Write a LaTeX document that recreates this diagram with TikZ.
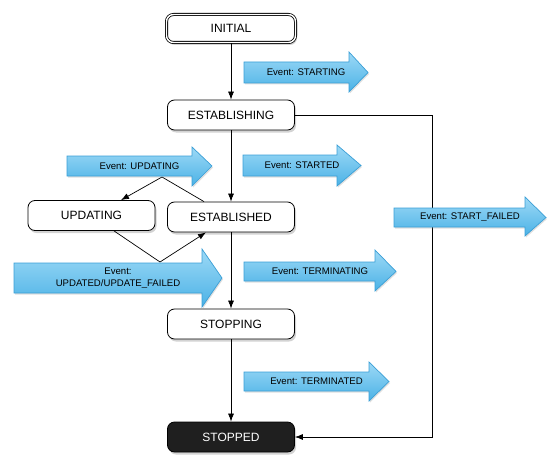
\documentclass[tikz,border=0pt]{standalone}
\usepackage{fontspec}
\setmainfont{Liberation Sans}
\usetikzlibrary{arrows.meta,shadows,calc}
\definecolor{evtop}{HTML}{9DD9F6}
\definecolor{evbot}{HTML}{4BB2E6}
\definecolor{evline}{HTML}{3A9FD6}
\tikzset{
  state/.style={draw=black, rounded corners=7pt, minimum width=127pt, minimum height=30pt,
    fill=white, line width=0.8pt, font=\fontsize{12}{14}\selectfont,
    drop shadow={opacity=0.35, shadow xshift=1.5pt, shadow yshift=-2.5pt}},
  conn/.style={draw=black, line width=0.7pt},
  arr/.style={conn, -{Latex[length=8pt,width=6pt]}},
  evshape/.style={draw=evline, line width=0.7pt, top color=evtop, bottom color=evbot,
    drop shadow={opacity=0.25, shadow xshift=1pt, shadow yshift=-1.5pt}},
  evtext/.style={font=\fontsize{9.6}{11.5}\selectfont, align=center, inner sep=0pt},
}
% name, x0, xbody, xtip, ytop, ybot, headtop, headbot, text
\newcommand{\evarrow}[9]{%
  \path[evshape] (#2,#5) -- (#3,#5) -- (#3,#7) -- (#4,{(#5+#6)/2}) -- (#3,#8) -- (#3,#6) -- (#2,#6) -- cycle;
  \node[evtext] (#1) at ({(#2+#4)/2},{(#5+#6)/2}) {#9};
}
\begin{document}
\begin{tikzpicture}[x=1pt,y=-1pt]
\useasboundingbox (0,0) rectangle (556,468);
% states
\node[state, double, double distance=1.4pt, minimum width=129pt, minimum height=28pt] (initial) at (231,28.5) {INITIAL};
\node[state] (establishing) at (231,115) {ESTABLISHING};
\node[state] (updating) at (91.5,215.5) {UPDATING};
\node[state] (established) at (231,217) {ESTABLISHED};
\node[state] (stopping) at (231,324) {STOPPING};
\node[state, fill=black!88, text=white] (stopped) at (231,437) {STOPPED};
% connectors
\draw[arr] (initial) -- (establishing);
\draw[arr] (establishing) -- (established);
\draw[arr] (established) -- (stopping);
\draw[arr] (stopping) -- (stopped);
\coordinate (c1) at (432,115);
\coordinate (c2) at (432,437);
\draw[arr] (establishing.east) -- (c1) -- (c2) -- (stopped.east);
\coordinate (apex1) at (162,177);
\draw[arr] ([xshift=-27pt]established.north) -- (apex1) -- ([xshift=29.5pt]updating.north);
\coordinate (apex2) at (160,262);
\draw[arr] ([xshift=22.5pt]updating.south) -- (apex2) -- ([xshift=-25pt]established.south);
% event arrows
\evarrow{evstarting}{244}{349}{368}{62}{83}{52}{92}{Event: STARTING}
\evarrow{evupdating}{67}{192}{212}{156}{176}{147}{186}{Event: UPDATING}
\evarrow{evstarted}{243}{337}{361}{155}{176}{145}{186}{Event: STARTED}
\evarrow{evstartfailed}{394}{525}{546}{208}{227}{197}{236}{Event: START\_FAILED}
\evarrow{evterminating}{244}{375}{396}{262}{281}{250}{291}{Event: TERMINATING}
\evarrow{evupdated}{14}{202}{222}{263}{293}{249}{307}{Event:\\UPDATED/UPDATE\_FAILED}
\evarrow{evterminated}{244}{369}{389}{372}{391}{362}{401}{Event: TERMINATED}
\end{tikzpicture}
\end{document}
